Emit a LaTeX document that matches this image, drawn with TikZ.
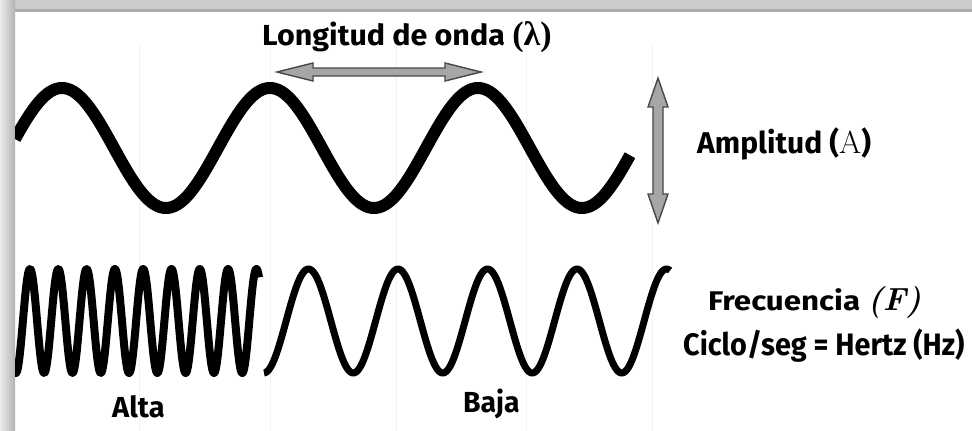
\documentclass[tikz,border=0pt]{standalone}
\usepackage{fontspec}
\usetikzlibrary{calc}
\newfontfamily\fira{Fira Sans}
\newfontfamily\libserif{Liberation Serif}
\tikzset{
  lbl/.style={inner sep=0pt, anchor=base west},
  wave/.style={line cap=butt, line join=round, black},
  marker/.style={fill=black!35, draw=black!72, line width=1.4pt, line join=miter},
  faint/.style={draw=black!5, line width=1pt}
}
\newcommand{\lblfont}[2]{\fira\bfseries\fontsize{#1}{#1}\selectfont\addfontfeatures{FakeStretch=#2}}
\begin{document}
\begin{tikzpicture}[x=1pt,y=-1pt]
\useasboundingbox (0,0) rectangle (972,431);
\fill[white] (0,0) rectangle (972,431);
% frame
\fill[black!20] (0,0) rectangle (972,12);
\fill[black!33] (0,8.5) rectangle (972,12);
\shade[left color=black!8, right color=black!30] (0,0) rectangle (15,431);
% faint grid lines
\foreach \gx in {139,270,396,526,652} \draw[faint] (\gx,45) -- (\gx,431);
% waves
\begin{scope}
\clip (15,12) rectangle (972,431);
\draw[wave, line width=12pt] plot[domain=15:630, samples=400, smooth] (\x,{148-60*cos((\x-62)/208*360)});
\draw[wave, line width=8pt] plot[domain=15:259, samples=500, smooth] (\x,{321-52*cos((\x-30)/28.3*360)});
\draw[wave, line width=7pt] plot[domain=264:670, samples=400, smooth] (\x,{321-52*cos((\x-308.5)/89.5*360)});
\end{scope}
% wavelength marker
\coordinate (lamL) at (277,72);
\coordinate (lamR) at (481,72);
\path[marker] (lamL) -- ++(36,-9) -- ++(0,5) -- ($(lamR)+(-36,-4)$) -- ++(0,-5) -- (lamR) -- ++(-36,9) -- ++(0,-5) -- ($(lamL)+(36,4)$) -- ++(0,5) -- cycle;
% amplitude marker
\coordinate (ampT) at (658,78);
\coordinate (ampB) at (658,223);
\path[marker] (ampT) -- ++(-10,29) -- ++(5,0) -- ($(ampB)+(-5,-29)$) -- ++(-5,0) -- (ampB) -- ++(10,-29) -- ++(-5,0) -- ($(ampT)+(5,29)$) -- ++(5,0) -- cycle;
% labels
\node[lbl] (title) at (262,45) {\lblfont{29}{1.05}Longitud de onda {\libserif\bfseries\fontsize{34}{34}\selectfont(λ)}};
\node[lbl] (amp) at (697,153) {\lblfont{30}{1.0}Amplitud ({\rmfamily\mdseries\fontsize{32}{32}\selectfont A})};
\node[lbl] (freq) at (708,310) {\lblfont{27}{1.16}Frecuencia {\rmfamily\bfseries\itshape\fontsize{32}{32}\selectfont(F)}};
\node[lbl] (hz) at (683,355) {\lblfont{31}{0.93}Ciclo/seg = Hertz (Hz)};
\node[lbl] (alta) at (112,417) {\lblfont{29}{1.0}Alta};
\node[lbl] (baja) at (463,412) {\lblfont{29}{0.98}Baja};
\end{tikzpicture}
\end{document}
